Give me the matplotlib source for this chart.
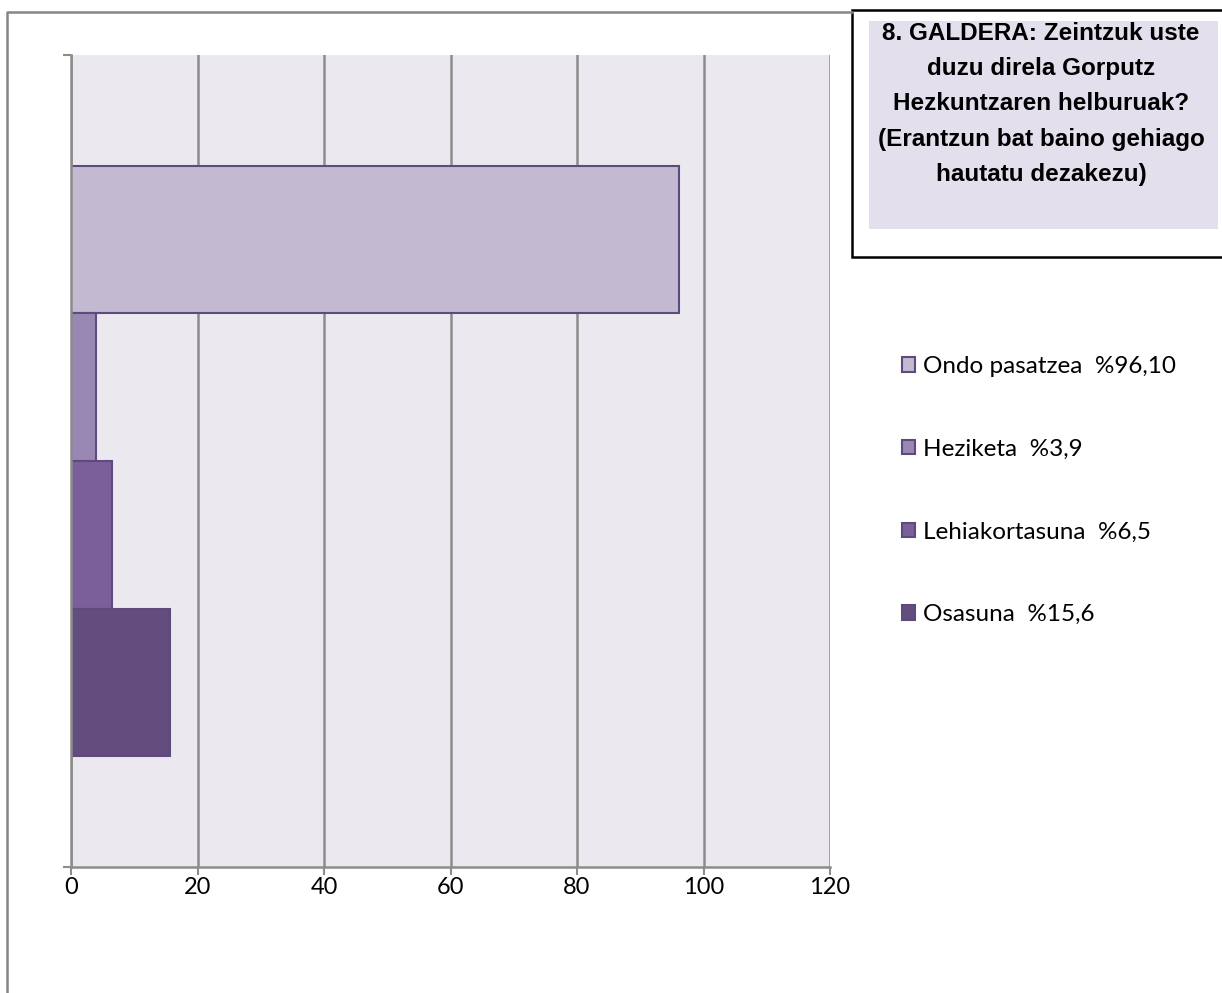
import matplotlib.pyplot as plt
from matplotlib.patches import Rectangle, Patch
from matplotlib.lines import Line2D

# data
legend_labels = ['Ondo pasatzea  %96,10', 'Heziketa  %3,9', 'Lehiakortasuna  %6,5', 'Osasuna  %15,6']
values = [96.1, 3.9, 6.5, 15.6]
colors = ['#C3B9D1', '#9A88B4', '#7B5F9B', '#634D7E']
xticks = [0, 20, 40, 60, 80, 100, 120]
title_lines = ['8. GALDERA: Zeintzuk uste', 'duzu direla Gorputz', 'Hezkuntzaren helburuak?',
               '(Erantzun bat baino gehiago', 'hautatu dezakezu)']

W, H = 1222, 993
fig = plt.figure(figsize=(W / 100, H / 100), dpi=100)
fig.set_facecolor('white')


def fx(px):
    return px / W


def fy(py):
    return 1 - py / H


ax = fig.add_axes([fx(71), fy(867), fx(830) - fx(71), fy(55) - fy(867)])
ax.set_facecolor('#EBE9EF')

gap = 0.75  # excel gap width 150% split on both sides
bar_h = 1.0
handles = []
for i, (v, c) in enumerate(zip(values, colors)):
    yc = gap + i * bar_h + bar_h / 2
    ax.barh(yc, v, height=bar_h, color=c, edgecolor='#5E4A7C', linewidth=1.5, zorder=3)
    handles.append(Patch(facecolor=c, edgecolor='#5E4A7C', linewidth=1.5))

ax.set_xlim(0, 120)
ax.set_ylim(2 * gap + len(values) * bar_h, 0)
ax.set_xticks(xticks)
ax.set_xticklabels([str(t) for t in xticks], fontfamily='Lato', fontsize=17)
ax.set_yticks([0, 2 * gap + len(values) * bar_h])
ax.set_yticklabels([])
ax.tick_params(axis='x', direction='out', length=6, width=1.5, color='#8C8C8C', pad=1.5)
ax.tick_params(axis='y', direction='out', length=6, width=1.5, color='#8C8C8C')
ax.grid(axis='x', color='#8C8C8C', linewidth=1.8, zorder=1)
ax.set_axisbelow(True)
for s in ['top', 'right']:
    ax.spines[s].set_visible(False)
for s in ['left', 'bottom']:
    ax.spines[s].set_color('#8C8C8C')
    ax.spines[s].set_linewidth(1.8)
    ax.spines[s].set_zorder(4)

# outer chart frame (left and top)
fig.add_artist(Line2D([fx(7), fx(7), fx(852)], [fy(993), fy(12), fy(12)],
                      color='#868686', linewidth=1.8))

# title box
fig.add_artist(Rectangle((fx(852), fy(257)), fx(1225) - fx(852), fy(10) - fy(257),
                         facecolor='white', edgecolor='black', linewidth=1.8))
fig.add_artist(Rectangle((fx(869), fy(229)), fx(1218) - fx(869), fy(21) - fy(229),
                         facecolor='#E4DFEC', edgecolor='none'))
for i, line in enumerate(title_lines):
    fig.text(fx(1041), fy(33 + i * 35.5), line, ha='center', va='center',
             fontfamily='Liberation Sans', fontweight='bold', fontsize=17.5)

fig.legend(handles, legend_labels, loc='upper left', bbox_to_anchor=(fx(902), fy(356)),
           frameon=False, prop={'family': 'Lato', 'size': 17.5}, borderpad=0, borderaxespad=0,
           handlelength=0.55, handleheight=0.55, handletextpad=0.3, labelspacing=2.54)

plt.savefig('out.png', dpi=100)
